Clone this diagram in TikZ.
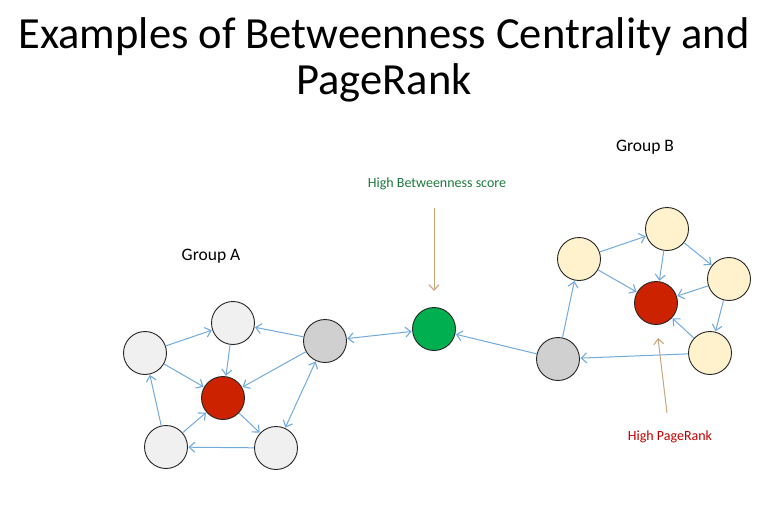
\documentclass[tikz,border=0pt]{standalone}
\usepackage{fontspec}
\setmainfont{Carlito}
\usetikzlibrary{arrows.meta}
\definecolor{edgeblue}{HTML}{72AADD}
\definecolor{lightnode}{HTML}{F0F0F0}
\definecolor{graynode}{HTML}{D0D0D0}
\definecolor{rednode}{HTML}{CC2200}
\definecolor{greennode}{HTML}{00B050}
\definecolor{creamnode}{HTML}{FFF2CC}
\definecolor{pointer}{HTML}{C9A57E}
\definecolor{greentext}{HTML}{1E7B3E}
\definecolor{redtext}{HTML}{C00000}
\tikzset{
  vertex/.style={circle, draw=black!85, line width=0.9pt, minimum size=43pt, inner sep=0pt},
  plain/.style={vertex, fill=lightnode},
  bridge/.style={vertex, fill=graynode},
  hub/.style={vertex, fill=rednode},
  central/.style={vertex, fill=greennode},
  cream/.style={vertex, fill=creamnode},
  barb/.tip={Straight Barb[length=5.5pt,width=10pt,line width=1.1pt]},
  link/.style={draw=edgeblue, line width=1pt, -barb, shorten >=0.5pt},
  bilink/.style={link, barb-barb, shorten <=0.5pt},
  callout/.style={draw=pointer, line width=1pt, -{Straight Barb[length=5.5pt,width=10pt,line width=1.1pt]}},
  caption/.style={font=\fontsize{17.5}{20}\selectfont, inner sep=0pt}
}
\begin{document}
\begin{tikzpicture}[x=1pt, y=-1pt]
\useasboundingbox (0,0) rectangle (777,514);
\fill[white] (0,0) rectangle (777,514);

% title
\node[align=center, inner sep=0pt, font=\fontsize{44.5}{46}\selectfont] (title) at (384,60)
  {Examples of Betweenness Centrality and\\PageRank};

% group A
\node[caption] (labelA) at (211,256) {Group A};
\node[plain]  (a1) at (145,353) {};
\node[plain]  (a2) at (233,323) {};
\node[bridge] (a3) at (325,341) {};
\node[hub]    (ar) at (223,398) {};
\node[plain]  (a4) at (166,447) {};
\node[plain]  (a5) at (276,448) {};

% bridging node
\node[central] (g) at (434,329) {};

% group B
\node[caption] (labelB) at (645,147) {Group B};
\node[bridge] (b0) at (558,359) {};
\node[cream]  (b1) at (579,259) {};
\node[cream]  (b2) at (667,229) {};
\node[cream]  (b3) at (729,279) {};
\node[cream]  (b4) at (710,353) {};
\node[hub]    (br) at (656,303) {};

% edges in group A
\draw[link] (a1) -- (a2);
\draw[link] (a1) -- (ar);
\draw[link] (a2) -- (ar);
\draw[link] (a3) -- (a2);
\draw[link] (a3) -- (ar);
\draw[bilink] (a3) -- (a5);
\draw[link] (ar) -- (a5);
\draw[link] (a5) -- (a4);
\draw[link] (a4) -- (a1);
\draw[link] (a4) -- (ar);
\draw[bilink] (a3) -- (g);

% edges in group B
\draw[link] (b0) -- (b1);
\draw[link] (b1) -- (b2);
\draw[link] (b1) -- (br);
\draw[link] (b2) -- (br);
\draw[link] (b2) -- (b3);
\draw[link] (b3) -- (br);
\draw[link] (b3) -- (b4);
\draw[link] (b4) -- (br);
\draw[link] (b4) -- (b0);
\draw[link] (b0) -- (g);

% annotations
\node[inner sep=0pt, text=greentext, font=\fontsize{14}{16}\selectfont] (betw) at (437,184) {High Betweenness score};
\coordinate (betwtail) at (434,208);
\coordinate (betwhead) at (434,291);
\draw[callout] (betwtail) -- (betwhead);

\node[inner sep=0pt, text=redtext, font=\fontsize{14}{16}\selectfont] (prank) at (670,437) {High PageRank};
\coordinate (pranktail) at (667,413);
\coordinate (prankhead) at (658,338);
\draw[callout] (pranktail) -- (prankhead);
\end{tikzpicture}
\end{document}
